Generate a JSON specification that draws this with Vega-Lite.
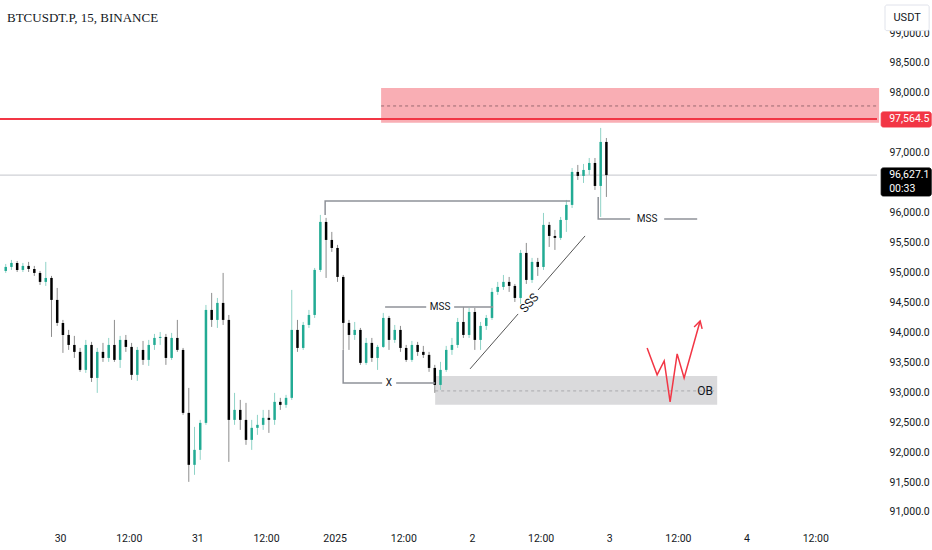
{
  "$schema": "https://vega.github.io/schema/vega-lite/v6.json",
  "width": 877,
  "height": 528,
  "autosize": {"type": "none"},
  "padding": {"left": 0, "top": 0, "right": 55, "bottom": 22},
  "background": "#ffffff",
  "config": {"view": {"stroke": null}},
  "title": {"text": "BTCUSDT.P, 15, BINANCE", "anchor": "start", "frame": "group", "orient": "top", "offset": -25, "dx": 7, "font": "Liberation Serif", "fontSize": 13, "fontWeight": "normal", "color": "#131722"},
  "data": {"values": [
    {"t": "2024-12-29T14:30", "p": 95026, "h": 95143, "l": 94993, "c": 95093},
    {"t": "2024-12-29T15:30", "p": 95093, "h": 95210, "l": 95043, "c": 95160},
    {"t": "2024-12-29T16:30", "p": 95160, "h": 95193, "l": 95009, "c": 95043},
    {"t": "2024-12-29T17:30", "p": 95043, "h": 95160, "l": 95009, "c": 95110},
    {"t": "2024-12-29T18:30", "p": 95110, "h": 95177, "l": 95009, "c": 95059},
    {"t": "2024-12-29T19:30", "p": 95059, "h": 95110, "l": 94943, "c": 94993},
    {"t": "2024-12-29T20:30", "p": 94993, "h": 95026, "l": 94792, "c": 94843},
    {"t": "2024-12-29T21:30", "p": 94843, "h": 95177, "l": 94776, "c": 94909},
    {"t": "2024-12-29T22:30", "p": 94909, "h": 94943, "l": 93924, "c": 94542},
    {"t": "2024-12-29T23:30", "p": 94542, "h": 94742, "l": 94108, "c": 94158},
    {"t": "2024-12-30T00:30", "p": 94158, "h": 94208, "l": 93657, "c": 93957},
    {"t": "2024-12-30T01:30", "p": 93957, "h": 94041, "l": 93707, "c": 93790},
    {"t": "2024-12-30T02:30", "p": 93790, "h": 93941, "l": 93573, "c": 93674},
    {"t": "2024-12-30T03:30", "p": 93674, "h": 93740, "l": 93340, "c": 93373},
    {"t": "2024-12-30T04:30", "p": 93373, "h": 93874, "l": 93323, "c": 93790},
    {"t": "2024-12-30T05:30", "p": 93790, "h": 93841, "l": 93172, "c": 93239},
    {"t": "2024-12-30T06:30", "p": 93239, "h": 93740, "l": 92989, "c": 93674},
    {"t": "2024-12-30T07:30", "p": 93674, "h": 93824, "l": 93507, "c": 93573},
    {"t": "2024-12-30T08:30", "p": 93573, "h": 93907, "l": 93507, "c": 93790},
    {"t": "2024-12-30T09:30", "p": 93790, "h": 94208, "l": 93507, "c": 93540},
    {"t": "2024-12-30T10:30", "p": 93540, "h": 93941, "l": 93406, "c": 93874},
    {"t": "2024-12-30T11:30", "p": 93874, "h": 93957, "l": 93674, "c": 93757},
    {"t": "2024-12-30T12:30", "p": 93757, "h": 93824, "l": 93206, "c": 93290},
    {"t": "2024-12-30T13:30", "p": 93290, "h": 93757, "l": 93189, "c": 93707},
    {"t": "2024-12-30T14:30", "p": 93707, "h": 93857, "l": 93457, "c": 93540},
    {"t": "2024-12-30T15:30", "p": 93540, "h": 93874, "l": 93440, "c": 93790},
    {"t": "2024-12-30T16:30", "p": 93790, "h": 93974, "l": 93707, "c": 93907},
    {"t": "2024-12-30T17:30", "p": 93907, "h": 94007, "l": 93790, "c": 93924},
    {"t": "2024-12-30T18:30", "p": 93924, "h": 93974, "l": 93457, "c": 93573},
    {"t": "2024-12-30T19:30", "p": 93573, "h": 93991, "l": 93540, "c": 93907},
    {"t": "2024-12-30T20:30", "p": 93907, "h": 94208, "l": 93674, "c": 93707},
    {"t": "2024-12-30T21:30", "p": 93707, "h": 93740, "l": 92622, "c": 92655},
    {"t": "2024-12-30T22:30", "p": 92655, "h": 93072, "l": 91503, "c": 91787},
    {"t": "2024-12-30T23:30", "p": 91787, "h": 92421, "l": 91620, "c": 92037},
    {"t": "2024-12-31T00:30", "p": 92037, "h": 92538, "l": 91870, "c": 92488},
    {"t": "2024-12-31T01:30", "p": 92488, "h": 94458, "l": 92455, "c": 94375},
    {"t": "2024-12-31T02:30", "p": 94375, "h": 94659, "l": 94091, "c": 94208},
    {"t": "2024-12-31T03:30", "p": 94208, "h": 94575, "l": 94074, "c": 94492},
    {"t": "2024-12-31T04:30", "p": 94492, "h": 94993, "l": 94124, "c": 94208},
    {"t": "2024-12-31T05:30", "p": 94208, "h": 94291, "l": 91837, "c": 92538},
    {"t": "2024-12-31T06:30", "p": 92538, "h": 92989, "l": 92455, "c": 92705},
    {"t": "2024-12-31T07:30", "p": 92705, "h": 92872, "l": 92371, "c": 92538},
    {"t": "2024-12-31T08:30", "p": 92538, "h": 92822, "l": 92121, "c": 92204},
    {"t": "2024-12-31T09:30", "p": 92204, "h": 92538, "l": 92037, "c": 92405},
    {"t": "2024-12-31T10:30", "p": 92405, "h": 92622, "l": 92288, "c": 92455},
    {"t": "2024-12-31T11:30", "p": 92455, "h": 92705, "l": 92371, "c": 92572},
    {"t": "2024-12-31T12:30", "p": 92572, "h": 92705, "l": 92321, "c": 92538},
    {"t": "2024-12-31T13:30", "p": 92538, "h": 92989, "l": 92455, "c": 92839},
    {"t": "2024-12-31T14:30", "p": 92839, "h": 92906, "l": 92705, "c": 92789},
    {"t": "2024-12-31T15:30", "p": 92789, "h": 92956, "l": 92739, "c": 92906},
    {"t": "2024-12-31T16:30", "p": 92906, "h": 94709, "l": 92872, "c": 94041},
    {"t": "2024-12-31T17:30", "p": 94041, "h": 94208, "l": 93674, "c": 93740},
    {"t": "2024-12-31T18:30", "p": 93740, "h": 94174, "l": 93707, "c": 94124},
    {"t": "2024-12-31T19:30", "p": 94124, "h": 94375, "l": 94074, "c": 94291},
    {"t": "2024-12-31T20:30", "p": 94291, "h": 95076, "l": 94241, "c": 95043},
    {"t": "2024-12-31T21:30", "p": 95043, "h": 95962, "l": 95009, "c": 95845},
    {"t": "2024-12-31T22:30", "p": 95845, "h": 95912, "l": 94909, "c": 95544},
    {"t": "2024-12-31T23:30", "p": 95544, "h": 95678, "l": 95344, "c": 95410},
    {"t": "2025-01-01T00:30", "p": 95410, "h": 95461, "l": 94843, "c": 94926},
    {"t": "2025-01-01T01:30", "p": 94926, "h": 94959, "l": 93707, "c": 94158},
    {"t": "2025-01-01T02:30", "p": 94158, "h": 94208, "l": 93707, "c": 93957},
    {"t": "2025-01-01T03:30", "p": 93957, "h": 94174, "l": 93874, "c": 94041},
    {"t": "2025-01-01T04:30", "p": 94041, "h": 94074, "l": 93457, "c": 93490},
    {"t": "2025-01-01T05:30", "p": 93490, "h": 93907, "l": 93457, "c": 93824},
    {"t": "2025-01-01T06:30", "p": 93824, "h": 93907, "l": 93507, "c": 93573},
    {"t": "2025-01-01T07:30", "p": 93573, "h": 93790, "l": 93373, "c": 93757},
    {"t": "2025-01-01T08:30", "p": 93757, "h": 94325, "l": 93740, "c": 94241},
    {"t": "2025-01-01T09:30", "p": 94241, "h": 94275, "l": 93707, "c": 93874},
    {"t": "2025-01-01T10:30", "p": 93874, "h": 94124, "l": 93824, "c": 94041},
    {"t": "2025-01-01T11:30", "p": 94041, "h": 94108, "l": 93674, "c": 93740},
    {"t": "2025-01-01T12:30", "p": 93740, "h": 93790, "l": 93507, "c": 93540},
    {"t": "2025-01-01T13:30", "p": 93540, "h": 93857, "l": 93507, "c": 93790},
    {"t": "2025-01-01T14:30", "p": 93790, "h": 93841, "l": 93607, "c": 93674},
    {"t": "2025-01-01T15:30", "p": 93674, "h": 93774, "l": 93573, "c": 93624},
    {"t": "2025-01-01T16:30", "p": 93624, "h": 93674, "l": 93340, "c": 93406},
    {"t": "2025-01-01T17:30", "p": 93406, "h": 93457, "l": 92989, "c": 93122},
    {"t": "2025-01-01T18:30", "p": 93122, "h": 93507, "l": 93039, "c": 93373},
    {"t": "2025-01-01T19:30", "p": 93373, "h": 93774, "l": 93340, "c": 93707},
    {"t": "2025-01-01T20:30", "p": 93707, "h": 93907, "l": 93624, "c": 93790},
    {"t": "2025-01-01T21:30", "p": 93790, "h": 94241, "l": 93740, "c": 94174},
    {"t": "2025-01-01T22:30", "p": 94174, "h": 94425, "l": 93907, "c": 93957},
    {"t": "2025-01-01T23:30", "p": 93957, "h": 94408, "l": 93907, "c": 94341},
    {"t": "2025-01-02T00:30", "p": 94341, "h": 94408, "l": 93707, "c": 93874},
    {"t": "2025-01-02T01:30", "p": 93874, "h": 94174, "l": 93707, "c": 94108},
    {"t": "2025-01-02T02:30", "p": 94108, "h": 94291, "l": 94041, "c": 94241},
    {"t": "2025-01-02T03:30", "p": 94241, "h": 94742, "l": 94208, "c": 94676},
    {"t": "2025-01-02T04:30", "p": 94676, "h": 94843, "l": 94625, "c": 94759},
    {"t": "2025-01-02T05:30", "p": 94759, "h": 94959, "l": 94709, "c": 94843},
    {"t": "2025-01-02T06:30", "p": 94843, "h": 94926, "l": 94676, "c": 94776},
    {"t": "2025-01-02T07:30", "p": 94776, "h": 94809, "l": 94508, "c": 94575},
    {"t": "2025-01-02T08:30", "p": 94575, "h": 95377, "l": 94475, "c": 95327},
    {"t": "2025-01-02T09:30", "p": 95327, "h": 95494, "l": 94809, "c": 94876},
    {"t": "2025-01-02T10:30", "p": 94876, "h": 95244, "l": 94826, "c": 95177},
    {"t": "2025-01-02T11:30", "p": 95177, "h": 95244, "l": 94943, "c": 95093},
    {"t": "2025-01-02T12:30", "p": 95093, "h": 95995, "l": 95043, "c": 95795},
    {"t": "2025-01-02T13:30", "p": 95795, "h": 95845, "l": 95427, "c": 95611},
    {"t": "2025-01-02T14:30", "p": 95611, "h": 95711, "l": 95377, "c": 95578},
    {"t": "2025-01-02T15:30", "p": 95578, "h": 95928, "l": 95544, "c": 95878},
    {"t": "2025-01-02T16:30", "p": 95878, "h": 96212, "l": 95678, "c": 96129},
    {"t": "2025-01-02T17:30", "p": 96129, "h": 96746, "l": 96078, "c": 96680},
    {"t": "2025-01-02T18:30", "p": 96680, "h": 96797, "l": 96546, "c": 96613},
    {"t": "2025-01-02T19:30", "p": 96613, "h": 96813, "l": 96496, "c": 96713},
    {"t": "2025-01-02T20:30", "p": 96713, "h": 96913, "l": 96630, "c": 96830},
    {"t": "2025-01-02T21:30", "p": 96830, "h": 96913, "l": 96379, "c": 96446},
    {"t": "2025-01-02T22:30", "p": 96446, "h": 97415, "l": 95928, "c": 97181},
    {"t": "2025-01-02T23:30", "p": 97181, "h": 97247, "l": 96262, "c": 96627.1}
  ]},
  "encoding": {
    "x": {"field": "t", "type": "temporal", "title": null,
      "scale": {"domain": [{"year": 2024, "month": 12, "date": 29, "hours": 13, "minutes": 30}, {"year": 2025, "month": 1, "date": 4, "hours": 22, "minutes": 48}], "nice": false, "padding": 0},
      "axis": {"title": null, "values": [
        {"year": 2024, "month": 12, "date": 30, "hours": 0}, {"year": 2024, "month": 12, "date": 30, "hours": 12},
        {"year": 2024, "month": 12, "date": 31, "hours": 0}, {"year": 2024, "month": 12, "date": 31, "hours": 12},
        {"year": 2025, "month": 1, "date": 1, "hours": 0}, {"year": 2025, "month": 1, "date": 1, "hours": 12},
        {"year": 2025, "month": 1, "date": 2, "hours": 0}, {"year": 2025, "month": 1, "date": 2, "hours": 12},
        {"year": 2025, "month": 1, "date": 3, "hours": 0}, {"year": 2025, "month": 1, "date": 3, "hours": 12},
        {"year": 2025, "month": 1, "date": 4, "hours": 0}, {"year": 2025, "month": 1, "date": 4, "hours": 12}],
        "labelExpr": "hours(datum.value) == 12 ? '12:00' : ((month(datum.value) == 0 && date(datum.value) == 1) ? '2025' : '' + date(datum.value))",
        "encode": {"labels": {"update": {"fontWeight": {"signal": "(month(datum.value) == 0 && date(datum.value) == 1 && hours(datum.value) == 0) ? 'bold' : 'normal'"}}}},
        "domain": false, "ticks": false, "grid": false, "labelPadding": 5, "labelFont": "Roboto", "labelFontSize": 10.5, "labelColor": "#131722", "labelFlush": false, "labelOverlap": false}},
    "y": {"field": "p", "type": "quantitative", "title": null,
      "scale": {"domain": [90732, 99552], "nice": false, "zero": false},
      "axis": {"orient": "right", "title": null, "values": [91000, 91500, 92000, 92500, 93000, 93500, 94000, 94500, 95000, 95500, 96000, 97000, 98000, 98500, 99000], "format": ",.1f", "labelPadding": 12, "labelFont": "Roboto", "labelFontSize": 10.5, "labelColor": "#131722", "labelOverlap": false, "domain": false, "ticks": false, "grid": false}}
  },
  "layer": [
    {
      "data": {"values": [
        {"k": "supply", "t": "2025-01-01T08:07", "t2": "2025-01-04T23:10", "p": 98083, "p2": 97500},
        {"k": "ob", "t": "2025-01-01T17:34", "t2": "2025-01-03T18:52", "p": 93273, "p2": 92789}
      ]},
      "mark": {"type": "rect"},
      "encoding": {
        "x2": {"field": "t2"},
        "y2": {"field": "p2"},
        "color": {"condition": {"test": "datum.k == 'ob'", "value": "#dadadc"}, "value": "#f9aeb4"}
      }
    },
    {
      "data": {"values": [
        {"k": "supply", "t": "2025-01-01T08:07", "t2": "2025-01-04T22:48", "p": 97782},
        {"k": "ob", "t": "2025-01-01T17:34", "t2": "2025-01-03T18:52", "p": 93022}
      ]},
      "mark": {"type": "rule", "strokeDash": [3, 3], "strokeWidth": 1},
      "encoding": {
        "x2": {"field": "t2"},
        "color": {"condition": {"test": "datum.k == 'ob'", "value": "#a9a9ad"}, "value": "#9a6a70"}
      }
    },
    {
      "data": {"values": [
        {"k": "level", "t": "2024-12-29T13:30", "t2": "2025-01-04T22:48", "p": 97564.5},
        {"k": "last", "t": "2024-12-29T13:30", "t2": "2025-01-04T22:48", "p": 96627.1}
      ]},
      "mark": {"type": "rule"},
      "encoding": {
        "x2": {"field": "t2"},
        "color": {"condition": {"test": "datum.k == 'level'", "value": "#f23645"}, "value": "#c3c5cc"},
        "strokeWidth": {"condition": {"test": "datum.k == 'level'", "value": 2}, "value": 1}
      }
    },
    {
      "mark": {"type": "rule", "strokeWidth": 1},
      "encoding": {
        "y2": {"field": "h"},
        "color": {"condition": {"test": "datum.c >= datum.p", "value": "#8fd3c7"}, "value": "#8d8d8d"}
      }
    },
    {
      "mark": {"type": "rule", "strokeWidth": 1},
      "encoding": {
        "y2": {"field": "l"},
        "color": {"condition": {"test": "datum.c >= datum.p", "value": "#8fd3c7"}, "value": "#8d8d8d"}
      }
    },
    {
      "mark": {"type": "bar", "size": 2.5},
      "encoding": {
        "y2": {"field": "c"},
        "color": {"condition": {"test": "datum.c >= datum.p", "value": "#22ab94"}, "value": "#000000"}
      }
    },
    {
      "data": {"values": [
        {"g": "mss1", "i": 0, "t": "2024-12-31T22:20", "p": 95962},
        {"g": "mss1", "i": 1, "t": "2024-12-31T22:20", "p": 96195},
        {"g": "mss1", "i": 2, "t": "2025-01-02T17:10", "p": 96195},
        {"g": "mss2a", "i": 0, "t": "2025-01-01T08:49", "p": 94425},
        {"g": "mss2a", "i": 1, "t": "2025-01-01T16:00", "p": 94425},
        {"g": "mss2b", "i": 0, "t": "2025-01-01T20:53", "p": 94425},
        {"g": "mss2b", "i": 1, "t": "2025-01-02T03:42", "p": 94425},
        {"g": "xa", "i": 0, "t": "2025-01-01T01:29", "p": 93707},
        {"g": "xa", "i": 1, "t": "2025-01-01T01:29", "p": 93156},
        {"g": "xa", "i": 2, "t": "2025-01-01T08:18", "p": 93156},
        {"g": "xb", "i": 0, "t": "2025-01-01T10:45", "p": 93156},
        {"g": "xb", "i": 1, "t": "2025-01-01T17:34", "p": 93156},
        {"g": "mss3a", "i": 0, "t": "2025-01-02T22:04", "p": 96262},
        {"g": "mss3a", "i": 1, "t": "2025-01-02T22:04", "p": 95895},
        {"g": "mss3a", "i": 2, "t": "2025-01-03T03:39", "p": 95895},
        {"g": "mss3b", "i": 0, "t": "2025-01-03T09:36", "p": 95895},
        {"g": "mss3b", "i": 1, "t": "2025-01-03T15:22", "p": 95895}
      ]},
      "mark": {"type": "line", "strokeWidth": 1.5, "color": "#8f9299"},
      "encoding": {
        "detail": {"field": "g"},
        "order": {"field": "i"}
      }
    },
    {
      "data": {"values": [
        {"g": "d1", "i": 0, "t": "2025-01-01T23:40", "p": 93390},
        {"g": "d1", "i": 1, "t": "2025-01-02T08:04", "p": 94308},
        {"g": "d2", "i": 0, "t": "2025-01-02T11:34", "p": 94709},
        {"g": "d2", "i": 1, "t": "2025-01-02T19:46", "p": 95611}
      ]},
      "mark": {"type": "line", "strokeWidth": 1, "color": "#555555"},
      "encoding": {
        "detail": {"field": "g"},
        "order": {"field": "i"}
      }
    },
    {
      "data": {"values": [
        {"g": "path", "i": 0, "t": "2025-01-03T06:37", "p": 93740},
        {"g": "path", "i": 1, "t": "2025-01-03T08:22", "p": 93290},
        {"g": "path", "i": 2, "t": "2025-01-03T09:36", "p": 93523},
        {"g": "path", "i": 3, "t": "2025-01-03T10:38", "p": 92839},
        {"g": "path", "i": 4, "t": "2025-01-03T11:52", "p": 93640},
        {"g": "path", "i": 5, "t": "2025-01-03T13:05", "p": 93239},
        {"g": "path", "i": 6, "t": "2025-01-03T15:53", "p": 94191},
        {"g": "head", "i": 0, "t": "2025-01-03T14:50", "p": 94091},
        {"g": "head", "i": 1, "t": "2025-01-03T15:53", "p": 94191},
        {"g": "head", "i": 2, "t": "2025-01-03T16:14", "p": 94058}
      ]},
      "mark": {"type": "line", "strokeWidth": 1.5, "color": "#f23645"},
      "encoding": {
        "detail": {"field": "g"},
        "order": {"field": "i"}
      }
    },
    {
      "data": {"values": [
        {"s": "MSS", "t": "2025-01-01T18:26", "p": 94425},
        {"s": "X", "t": "2025-01-01T09:30", "p": 93156},
        {"s": "MSS", "t": "2025-01-03T06:37", "p": 95895}
      ]},
      "mark": {"type": "text", "font": "Roboto", "fontSize": 10, "color": "#131722", "align": "center", "baseline": "middle"},
      "encoding": {"text": {"field": "s"}}
    },
    {
      "data": {"values": [
        {"s": "OB", "t": "2025-01-03T16:46", "p": 93022}
      ]},
      "mark": {"type": "text", "font": "Roboto", "fontSize": 12, "color": "#131722", "align": "center", "baseline": "middle"},
      "encoding": {"text": {"field": "s"}}
    },
    {
      "data": {"values": [
        {"s": "SSS", "t": "2025-01-02T10:00", "p": 94492}
      ]},
      "mark": {"type": "text", "font": "Roboto", "fontSize": 12, "color": "#131722", "align": "center", "baseline": "middle", "angle": -48},
      "encoding": {"text": {"field": "s"}}
    },
    {
      "data": {"values": [
        {"k": "unit", "t": "2025-01-05T00:12", "t2": "2025-01-05T07:55", "p": 99468, "p2": 99040},
        {"k": "tag", "t": "2025-01-04T23:32", "t2": "2025-01-05T08:16", "p": 97682, "p2": 97431},
        {"k": "last", "t": "2025-01-04T23:32", "t2": "2025-01-05T08:16", "p": 96746, "p2": 96279}
      ]},
      "mark": {"type": "rect", "cornerRadius": 2},
      "encoding": {
        "x2": {"field": "t2"},
        "y2": {"field": "p2"},
        "fill": {"condition": [{"test": "datum.k == 'tag'", "value": "#f23645"}, {"test": "datum.k == 'last'", "value": "#000000"}], "value": "#ffffff"},
        "stroke": {"condition": [{"test": "datum.k == 'tag'", "value": "#f23645"}, {"test": "datum.k == 'last'", "value": "#000000"}], "value": "#e0e3eb"}
      }
    },
    {
      "data": {"values": [
        {"s": "USDT", "t": "2025-01-05T04:04", "p": 99254}
      ]},
      "mark": {"type": "text", "font": "Roboto", "fontSize": 11, "color": "#131722", "align": "center", "baseline": "middle"},
      "encoding": {"text": {"field": "s"}}
    },
    {
      "data": {"values": [
        {"s": "97,564.5", "t": "2025-01-05T00:56", "p": 97564.5},
        {"s": "96,627.1", "t": "2025-01-05T00:56", "p": 96630},
        {"s": "00:33", "t": "2025-01-05T00:56", "p": 96396}
      ]},
      "mark": {"type": "text", "font": "Roboto", "fontSize": 10.5, "color": "#ffffff", "align": "left", "baseline": "middle"},
      "encoding": {"text": {"field": "s"}}
    }
  ]
}
